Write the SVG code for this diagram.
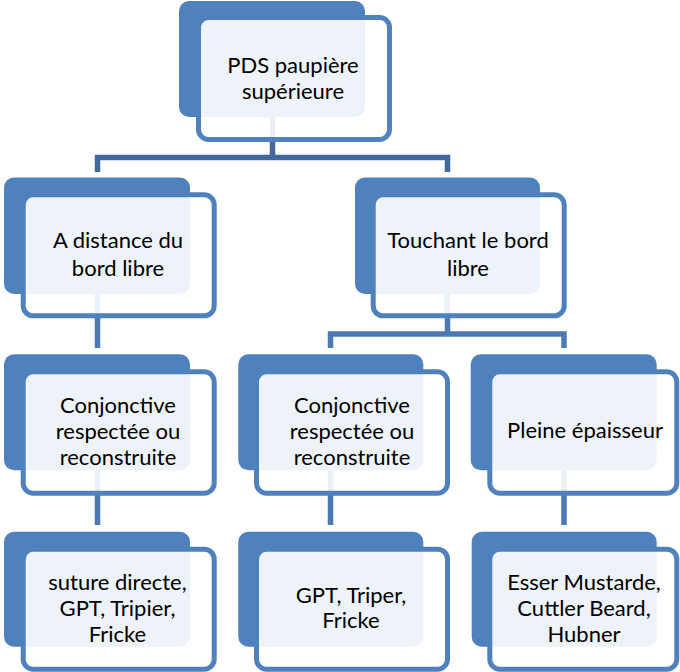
<svg xmlns="http://www.w3.org/2000/svg" width="680" height="672" viewBox="0 0 680 672">
<style>
.back{fill:#4F81BD;}
.front{fill:#FFFFFF;fill-opacity:0.9;stroke:#4F81BD;stroke-width:5;}
.c1{fill:none;stroke:#41699E;stroke-width:5.5;stroke-linejoin:miter;}
.c2{fill:none;stroke:#4A79B4;stroke-width:5.5;stroke-linejoin:miter;}
text{font-family:Lato,"Liberation Sans",sans-serif;font-size:22px;fill:#000;text-anchor:middle;}
</style>
<rect width="680" height="672" fill="#FFFFFF"/>
<g id="connectors">
<path class="c1" d="M272.5 117 V157.5 M97.5 172 V157.5 H447.5 V172"/>
<path class="c2" d="M97.5 294 V348"/>
<path class="c2" d="M447.5 294 V334 M330.5 348 V334 H564 V348"/>
<path class="c2" d="M97.5 470 V525 M330.5 470 V525 M564 470 V525"/>
</g>
<g id="n-top">
<rect class="back" x="179" y="1" width="186" height="116" rx="10"/>
<rect class="front" x="198.5" y="17.5" width="191" height="122" rx="10"/>
<text x="293" y="73">PDS paupière</text>
<text x="293" y="99">supérieure</text>
</g>
<g id="n-distance">
<rect class="back" x="4" y="177.5" width="186" height="116.5" rx="10"/>
<rect class="front" x="23.2" y="194.8" width="191" height="121" rx="10"/>
<text x="118" y="248">A distance du</text>
<text x="118" y="276">bord libre</text>
</g>
<g id="n-touchant">
<rect class="back" x="355" y="177.5" width="185" height="116.5" rx="10"/>
<rect class="front" x="373.2" y="194.8" width="191" height="121" rx="10"/>
<text x="468" y="248">Touchant le bord</text>
<text x="468" y="276">libre</text>
</g>
<g id="n-conj-left">
<rect class="back" x="4" y="354.3" width="186" height="116" rx="10"/>
<rect class="front" x="23.2" y="371.8" width="191" height="121.4" rx="10"/>
<text x="118" y="413">Conjonctive</text>
<text x="118" y="439">respectée ou</text>
<text x="118" y="465">reconstruite</text>
</g>
<g id="n-conj-mid">
<rect class="back" x="238.3" y="354.3" width="185" height="116" rx="10"/>
<rect class="front" x="256.5" y="371.8" width="191" height="121.4" rx="10"/>
<text x="352" y="413">Conjonctive</text>
<text x="352" y="439">respectée ou</text>
<text x="352" y="465">reconstruite</text>
</g>
<g id="n-pleine">
<rect class="back" x="470.7" y="354.3" width="186" height="116" rx="10"/>
<rect class="front" x="489.8" y="371.8" width="187" height="121.4" rx="10"/>
<text x="585" y="438">Pleine épaisseur</text>
</g>
<g id="n-suture">
<rect class="back" x="4" y="531.7" width="186" height="115" rx="10"/>
<rect class="front" x="23.2" y="549.2" width="191" height="120" rx="10"/>
<text x="117.5" y="590">suture directe,</text>
<text x="117.5" y="616">GPT, Tripier,</text>
<text x="117.5" y="642">Fricke</text>
</g>
<g id="n-gpt">
<rect class="back" x="238.3" y="531.7" width="185" height="115" rx="10"/>
<rect class="front" x="256.5" y="549.2" width="191" height="120" rx="10"/>
<text x="351" y="603">GPT, Triper,</text>
<text x="351" y="628">Fricke</text>
</g>
<g id="n-esser">
<rect class="back" x="471.7" y="531.7" width="185" height="115" rx="10"/>
<rect class="front" x="489.8" y="549.2" width="187" height="120" rx="10"/>
<text x="584" y="590">Esser Mustarde,</text>
<text x="584" y="616">Cuttler Beard,</text>
<text x="584" y="642">Hubner</text>
</g>
</svg>
